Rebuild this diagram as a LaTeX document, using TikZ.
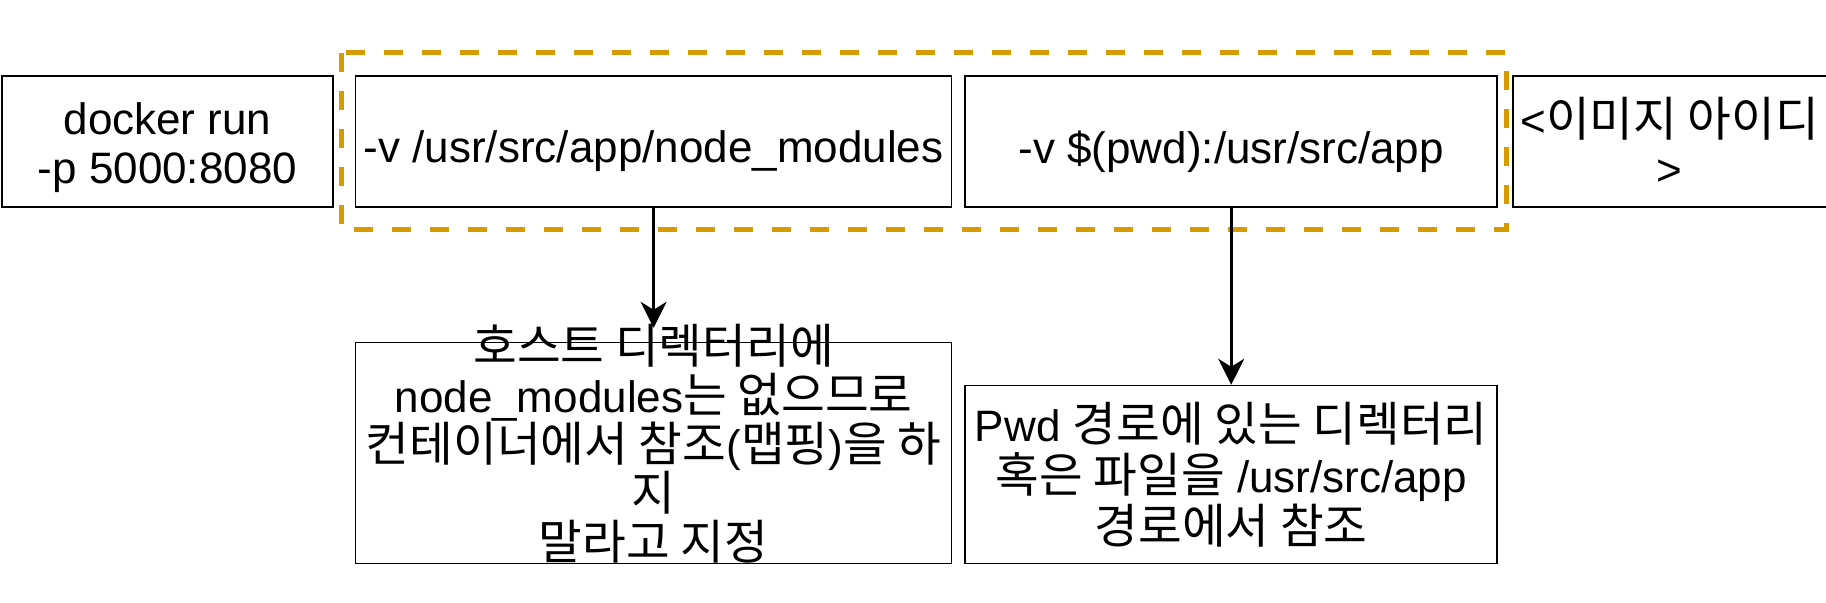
\documentclass[tikz,border=0pt]{standalone}
\usepackage{fontspec}
\setmainfont{Liberation Sans}
\newfontfamily\krfont[Scale=1.08]{Noto Sans CJK KR}
\newcommand{\kr}[1]{{\krfont #1}}
\usetikzlibrary{positioning,arrows.meta}
\definecolor{groupline}{HTML}{D79B00}

\begin{document}
\begin{tikzpicture}[x=0.5pt,y=-0.5pt,>={Stealth[length=13pt,width=13pt,inset=4pt]},
  node distance=6pt,
  cmdbox/.style={draw,line width=0.8pt,minimum height=65.5pt,inner sep=0pt},
  notebox/.style={draw,line width=0.8pt,inner sep=0pt},
  boxtext/.style={align=center,font=\fontsize{22}{24.5}\selectfont},
  volgroup/.style={draw=groupline,line width=2.5pt,dash pattern=on 9.5pt off 9.5pt}]
\useasboundingbox (0,0) rectangle (1826,603);

% command parts
\node (run) [cmdbox,minimum width=165.5pt] at (167.5,141.5) {};
\node (anon) [cmdbox,minimum width=298pt,right=10.5pt of run] {};
\node (bind) [cmdbox,minimum width=266pt,right=of anon] {};
\node (image) [cmdbox,minimum width=157pt,right=7pt of bind] {};
\node (runtext) [boxtext] at ([yshift=-3pt]run.center) {docker run\\-p 5000:8080};
\node (anontext) [boxtext] at ([yshift=-5pt]anon.center) {-v /usr/src/app/node\_modules};
\node (bindtext) [boxtext] at ([yshift=-5pt]bind.center) {-v \$(pwd):/usr/src/app};
\node (imagetext) [boxtext] at (image.center) {<\kr{이미지 아이디}\\>};

% explanations
\node (hostnote) [notebox,minimum width=298pt,minimum height=110.5pt,below=67pt of anon] {};
\node (hosttext) [boxtext] at ([yshift=4.5pt]hostnote.center)
  {\kr{호스트 디렉터리에}\\node\_modules\kr{는 없으므로}\\\kr{컨테이너에서 참조}(\kr{맵핑})\kr{을 하}\\\kr{지}\\\kr{말라고 지정}};
\node (pwdnote) [notebox,minimum width=266pt,minimum height=89pt,below=88.5pt of bind] {};
\node (pwdtext) [boxtext,font=\fontsize{22}{25.5}\selectfont] at (pwdnote.center)
  {Pwd \kr{경로에 있는 디렉터리}\\\kr{혹은 파일을} /usr/src/app\\\kr{경로에서 참조}};

% volume options
\draw[volgroup] (341,53) rectangle (1506,230);

\draw[->,line width=1.4pt,shorten >=7pt] (anon) -- (hostnote);
\draw[->,line width=1.4pt] (bind) -- (pwdnote);
\end{tikzpicture}
\end{document}
